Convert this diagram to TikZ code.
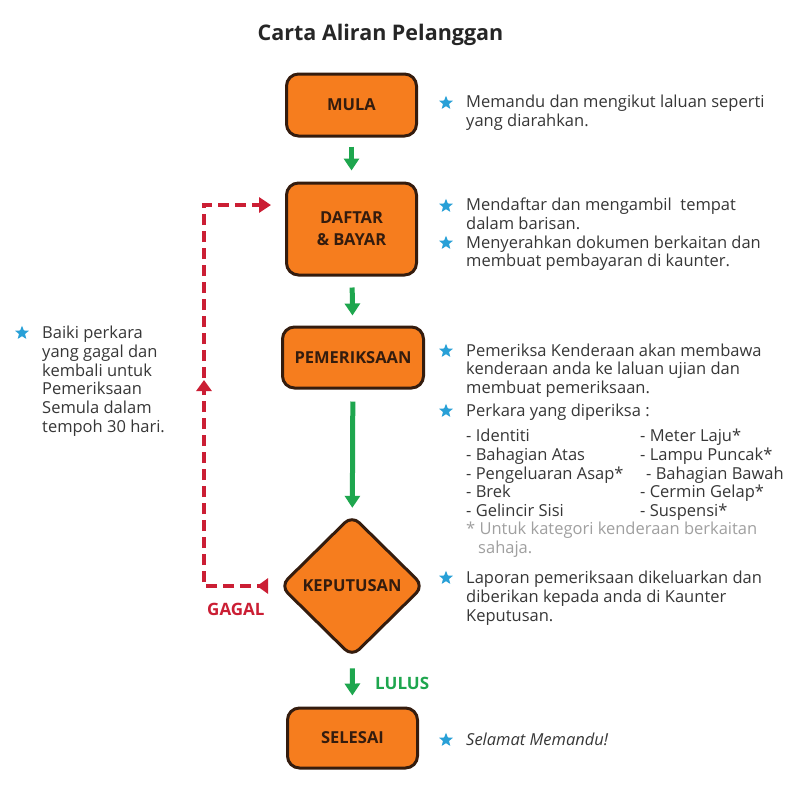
\documentclass[tikz,border=0pt]{standalone}
\usepackage{fontspec}
\setmainfont{Open Sans}
\usetikzlibrary{shapes.geometric,arrows.meta,decorations.markings}
\definecolor{boxfill}{RGB}{246,125,30}
\definecolor{boxline}{RGB}{52,28,14}
\definecolor{flowgreen}{RGB}{30,166,78}
\definecolor{failred}{RGB}{203,30,52}
\definecolor{starblue}{RGB}{40,160,215}
\definecolor{bodytext}{RGB}{55,55,55}
\definecolor{notegray}{RGB}{160,160,160}
\tikzset{
  stepbox/.style={draw=boxline, line width=3pt, fill=boxfill, rounded corners=12pt,
    minimum width=130pt, inner sep=2pt, text=boxline, align=center,
    font=\bfseries\fontsize{16.5}{22}\selectfont},
  decisionbox/.style={diamond, draw=boxline, line width=3pt, fill=boxfill, rounded corners=10pt,
    minimum width=144pt, minimum height=142pt, inner sep=0pt, text=boxline,
    font=\bfseries\fontsize{16.5}{22}\selectfont},
  flowarrow/.style={draw=flowgreen, line width=5pt, -{Triangle[width=15pt,length=12pt]}},
  faildash/.style={draw=failred, line width=4.3pt, dash pattern=on 11pt off 6pt},
  starmark/.style={star, star points=5, star point ratio=2.3, fill=starblue, draw=none,
    minimum size=14.5pt, inner sep=0pt},
  note/.style={anchor=north west, align=left, inner sep=0pt, text=bodytext,
    font=\fontsize{16.5}{18.7}\selectfont},
  flowlabel/.style={inner sep=0pt, font=\bfseries\fontsize{17}{18}\selectfont},
}
\begin{document}
\begin{tikzpicture}[x=1pt,y=-1pt]
\useasboundingbox (0,0) rectangle (800,793);
\fill[white] (0,0) rectangle (800,793);

\node[font=\bfseries\fontsize{21.5}{25}\selectfont, text=black!85] (title) at (380.5,35) {Carta Aliran Pelanggan};

% flow nodes
\node[stepbox, minimum height=62pt] (mula) at (351.5,105) {MULA};
\node[stepbox, minimum height=92pt] (daftar) at (351.5,229) {DAFTAR\\\& BAYAR};
\node[stepbox, minimum height=61pt, minimum width=141pt] (pemer) at (353,357.5) {PEMERIKSAAN};
\node[decisionbox] (kep) at (352,586) {KEPUTUSAN};
\node[stepbox, minimum height=60pt] (selesai) at (352.5,738) {SELESAI};

% green connectors
\draw[flowarrow, shorten <=9pt, shorten >=11pt] (mula) -- (daftar);
\draw[flowarrow, shorten <=11pt, shorten >=10pt] (daftar) -- (pemer);
\draw[flowarrow, shorten <=12pt, shorten >=6pt] (pemer) -- (kep);
\draw[flowarrow, shorten <=10pt, shorten >=11pt] (kep) -- (selesai);
\node[flowlabel, text=flowgreen, anchor=west] (lulus) at (375,683) {LULUS};

% failure loop
\coordinate (loopstart) at ([xshift=-10.5pt]kep.west);
\coordinate (loopcorner) at (204,205);
\coordinate (looptarget) at ([xshift=-14pt]daftar.west);
\draw[faildash, -{Triangle[width=15pt,length=12pt]},
  postaction={decorate, decoration={markings,
    mark=at position 11pt with {\arrow[failred]{Triangle[width=15pt,length=11pt]}},
    mark=at position 270pt with {\arrow[failred]{Triangle[width=15pt,length=11pt]}}}}]
  (loopstart) -| (loopcorner) -- (looptarget |- loopcorner);
\node[flowlabel, text=failred, anchor=west] (gagal) at (207,609) {GAGAL};

% stars
\node[starmark] (s1) at (446,103) {};
\node[starmark] (s2) at (446,206) {};
\node[starmark] (s3) at (446,243) {};
\node[starmark] (s4) at (446,351) {};
\node[starmark] (s5) at (446,411) {};
\node[starmark] (s6) at (446,578) {};
\node[starmark] (s7) at (446,740) {};
\node[starmark] (s8) at (22,333) {};

% notes
\node[note] (n1) at (466,95) {Memandu dan mengikut laluan seperti\\yang diarahkan.};
\node[note] (n2) at (466,198) {Mendaftar dan mengambil\ \ tempat\\dalam barisan.};
\node[note] (n3) at (466,235.5) {Menyerahkan dokumen berkaitan dan\\membuat pembayaran di kaunter.};
\node[note] (n4) at (466,343.5) {Pemeriksa Kenderaan akan membawa\\kenderaan anda ke laluan ujian dan\\membuat pemeriksaan.};
\node[note] (n5) at (466,404) {Perkara yang diperiksa :};
\node[note] (n6) at (466,429) {- Identiti\\- Bahagian Atas\\- Pengeluaran Asap*\\- Brek\\- Gelincir Sisi};
\node[note] (n7) at (640,429) {- Meter Laju*\\- Lampu Puncak*\\\hspace*{6pt}- Bahagian Bawah\\- Cermin Gelap*\\- Suspensi*};
\node[note, text=notegray] (n8) at (466,522) {* Untuk kategori kenderaan berkaitan\\\hspace*{12pt}sahaja.};
\node[note] (n9) at (466,571) {Laporan pemeriksaan dikeluarkan dan\\diberikan kepada anda di Kaunter\\Keputusan.};
\node[note, font=\itshape\fontsize{16.5}{18.7}\selectfont] (n10) at (466,733) {Selamat Memandu!};
\node[note] (n11) at (42,326) {Baiki perkara\\yang gagal dan\\kembali untuk\\Pemeriksaan\\Semula dalam\\tempoh 30 hari.};
\end{tikzpicture}
\end{document}
